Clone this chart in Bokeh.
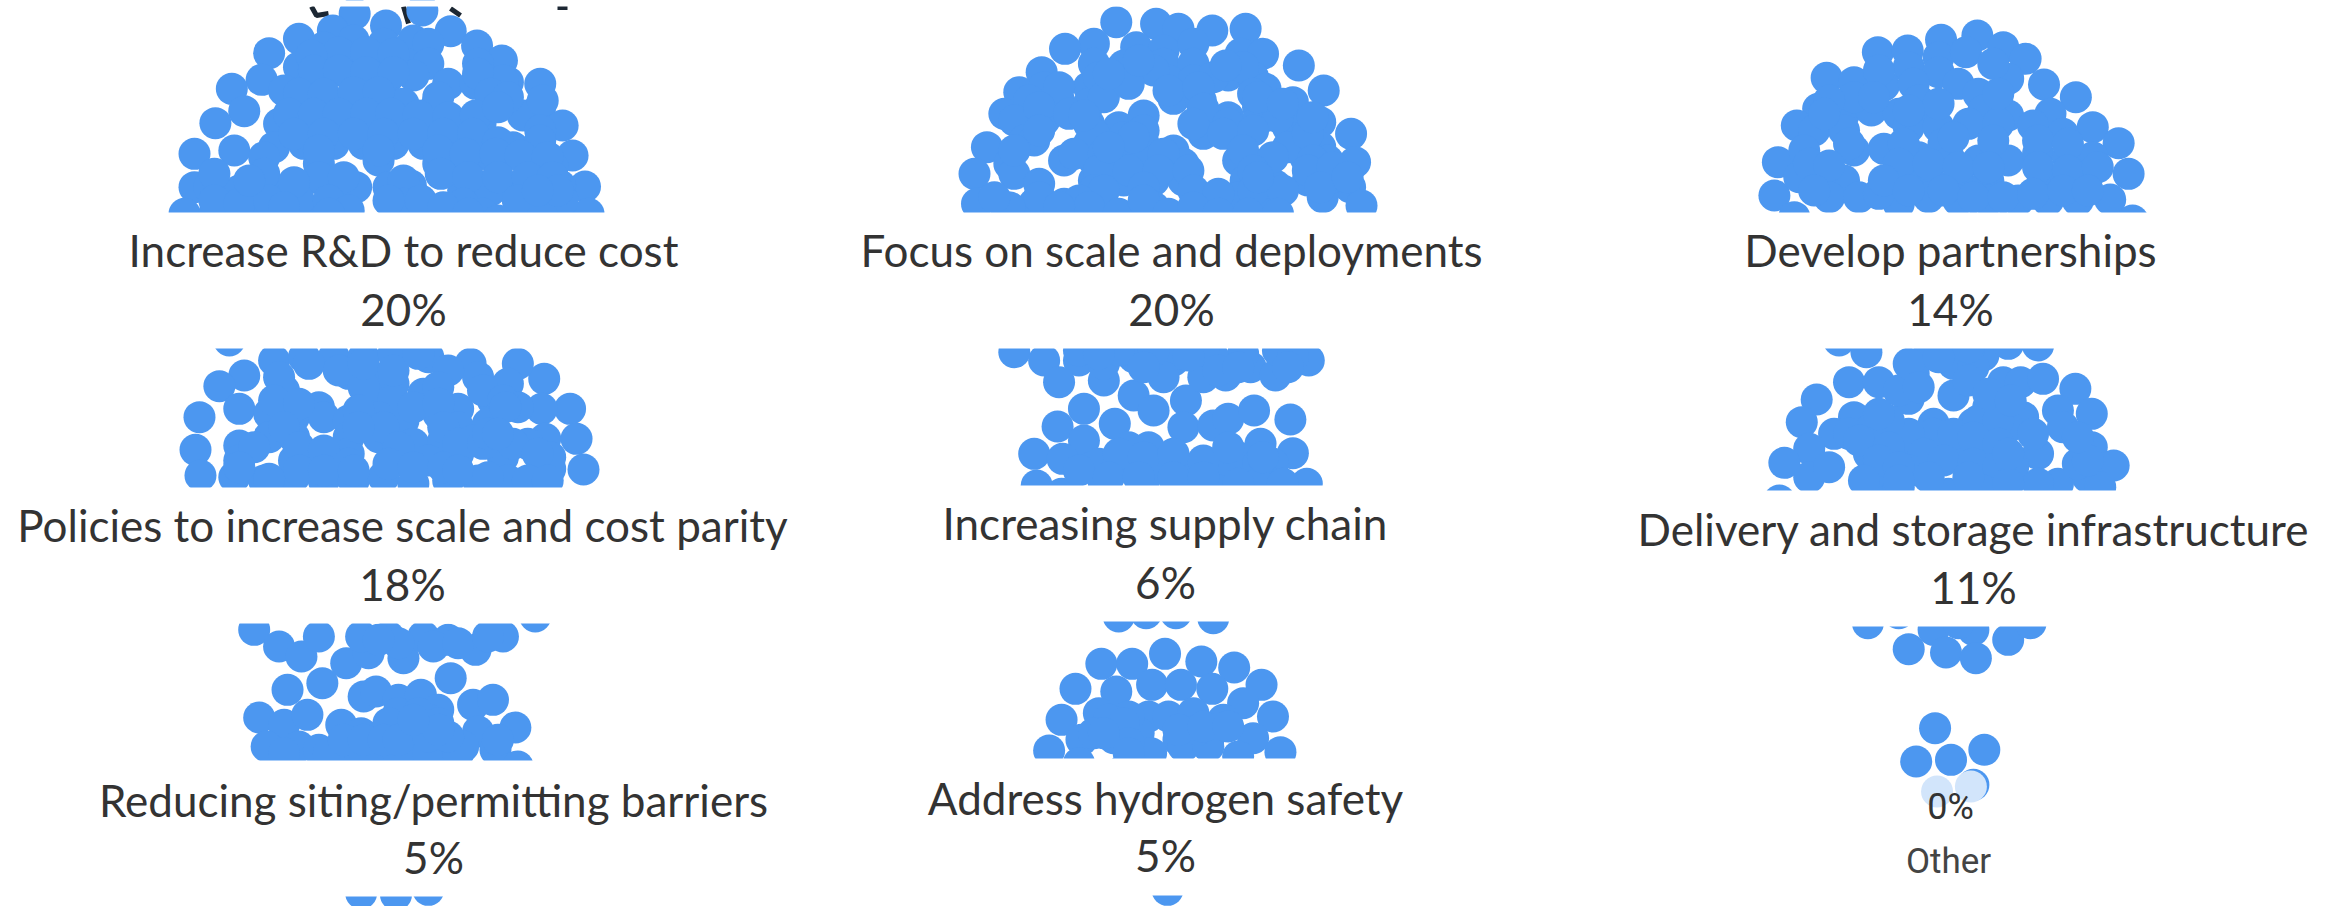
from bokeh.plotting import figure
from bokeh.models import Range1d, ColumnDataSource
from bokeh.core.properties import value
from bokeh.embed import file_html
from bokeh.resources import INLINE
import numpy as np

# read points: (horizontal, vertical)
p1 = [(712,40),(668,90),(600,115),(775,75),(848,30),(905,92),(958,135),(1008,180),(1085,250),(1085,320),(1130,375),(1150,465),(1175,558),(1182,640),
(540,158),(525,238),(465,265),(490,332),(432,368),(390,460),(390,560),(370,640),(470,450),
(650,140),(710,120),(770,130),(830,120),(860,130),(600,200),(650,190),(705,185),(760,190),(815,190),(860,190),(960,190),(1020,245),
(625,250),(720,240),(775,240),(830,225),(900,250),(955,250),(1010,240),(570,270),
(600,300),(650,310),(705,310),(760,310),(810,310),(875,320),(985,310),(1050,345),(1090,300),
(560,370),(620,370),(680,370),(740,370),(800,370),(860,370),(920,370),(965,370),(1085,390),
(550,440),(610,430),(670,430),(730,430),(790,430),(850,430),(910,430),(970,430),(1030,440),(1085,440),
(530,470),(640,490),(760,480),(880,490),(940,490),(1000,490),(1060,490),(1110,500),
(420,560),(480,570),(540,560),(600,560),(660,560),(715,560),(780,560),(825,555),(930,570),(985,570),(1045,560),(1125,555),
(430,640),(490,640),(550,640),(610,640),(680,640),(800,650),(860,640),(920,650),(1050,640),(1120,640),
(680,155),(735,155),(790,160),(625,165),(630,210),(680,210),(735,215),(790,215),(960,220),
(600,280),(650,280),(710,275),(760,275),(880,290),(985,280),(1020,290),
(580,340),(630,340),(680,340),(735,340),(785,340),(840,345),(900,350),(955,345),(1000,320),
(590,400),(650,400),(710,400),(770,400),(830,400),(890,400),(950,400),(1000,425),(1085,420),
(640,450),(760,450),(880,450),(935,460),(995,460),(1045,465),(1100,470),
(530,520),(640,530),(690,530),(810,540),(885,520),(940,530),(1000,530),(1060,530),(1110,530),(430,520),
(430,600),(480,610),(540,600),(600,600),(660,600),(810,610),(930,610),(1040,600),(1130,600),
(590,545),(700,630),(660,640),(780,600),(845,600),(890,620),(970,640),(1090,650),(1120,570),(1080,570),(940,640),(1000,660),(500,540),(570,620)]
p2 = [(675,65),(755,70),(800,85),(868,90),(935,85),(630,130),(572,145),(715,140),(1042,195),(525,215),(480,275),(1092,270),(1030,305),(450,340),(1085,365),(1147,400),(415,440),(1155,485),(390,520),(1145,560),(395,610),(1168,615),
(770,150),(830,130),(770,190),(830,190),(925,160),(970,160),(900,225),(530,260),(620,260),(685,235),(780,240),(830,240),(950,230),(975,265),
(500,300),(560,300),(620,310),(790,295),(845,300),(960,320),(470,360),(530,360),(620,370),(680,380),(730,345),(845,350),(900,350),(960,360),(1020,380),
(490,420),(510,420),(620,430),(680,430),(730,430),(790,450),(850,400),(930,420),(1040,420),(1085,440),
(460,490),(570,480),(630,480),(690,490),(750,490),(810,490),(920,480),(975,490),(1055,470),
(470,520),(520,550),(630,540),(690,540),(750,540),(810,540),(935,540),(995,555),(1060,540),(1110,530),
(510,610),(570,610),(640,600),(750,620),(850,610),(920,590),(985,600),(1090,590),
(630,190),(690,195),(750,210),(870,230),(930,200),(640,230),(560,260),(520,320),(580,340),(650,290),(700,250),(780,270),(840,260),(950,280),(1000,350),(960,290),(850,325),(900,370),
(520,390),(630,400),(690,410),(730,390),(830,370),(890,400),(950,390),(1020,440),(1060,400),(1100,480),(470,450),(590,460),(650,460),(710,460),(770,460),(930,450),(990,470),(1070,480),
(640,510),(700,510),(760,510),(820,510),(950,510),(1060,510),(1110,500),(630,570),(650,570),(730,560),(830,570),(880,580),(950,570),(1010,570),(1085,560),(520,590),(600,600),(1140,530),
(620,620),(680,640),(730,600),(780,640),(830,620),(880,640),(940,640),(1000,640),(460,620),(430,590),(560,620),(960,530),(610,345),(710,410),(660,440),(1070,350),(1010,310),(720,180),(895,195),(660,220)]
p3 = [(638,155),(698,150),(765,118),(838,105),(890,140),(935,175),(535,232),(900,235),(972,252),(1036,290),(518,325),(475,375),(985,340),(1070,380),(1122,428),(437,485),(1142,520),(430,585),(470,650),(1105,597),(1150,660),
(700,200),(760,170),(815,155),(870,190),(760,215),(590,245),(650,255),(710,250),(800,250),(840,280),(880,320),
(570,340),(625,330),(680,340),(740,340),(850,330),(900,345),(510,390),(570,390),(700,380),(760,380),(820,370),(880,370),(950,375),(1010,400),
(490,450),(590,450),(650,445),(720,470),(780,470),(840,480),(900,480),(960,460),(1020,470),(1070,470),
(480,530),(540,520),(570,540),(680,530),(740,530),(800,540),(860,540),(970,530),(1030,530),(1060,525),
(540,590),(600,590),(680,610),(740,590),(800,600),(860,600),(920,600),(980,600),(1040,600),
(640,210),(590,290),(630,290),(720,300),(760,310),(880,280),(540,300),(530,340),(580,430),(690,430),(770,430),(870,420),(960,420),(1020,430),(790,410),(700,330),
(500,490),(540,495),(680,490),(740,490),(800,500),(860,500),(960,500),(1020,510),(1080,500),(510,570),(640,580),(650,540),(700,570),(770,570),(830,590),(890,590),(950,580),(1010,570),(1060,570)]
p4 = [(460,60),(490,165),(440,197),(400,290),(392,388),(402,465),(1093,175),(1145,265),(1088,265),(1158,355),(1172,447),(1105,445),(1095,355),
(550,120),(610,110),(670,110),(730,110),(790,100),(860,110),(945,130),(1040,130),(700,160),(760,175),(790,190),(960,170),(1020,190),
(570,210),(640,260),(740,230),(790,240),(850,220),(920,265),(990,240),(1040,260),
(480,265),(540,280),(590,290),(650,290),(700,300),(760,290),(810,300),(880,280),(920,320),(980,310),
(480,375),(540,350),(590,350),(700,350),(760,350),(830,370),(890,360),(950,360),(1000,370),(1060,370),
(480,420),(590,420),(640,410),(700,400),(800,420),(860,420),(920,400),(1010,410),(1105,410),
(470,470),(530,480),(590,470),(650,480),(710,480),(770,470),(830,490),(900,480),(960,480),(1020,480),
(560,170),(550,240),(600,250),(620,130),(680,150),(730,200),(730,130),(790,150),(840,100),(900,150),(880,200),(830,260),(880,250),(970,210),(1010,240),(1015,260),(720,270),
(770,320),(720,320),(570,320),(600,380),(510,380),(650,390),(700,430),(800,380),(890,320),(920,370),(970,370),(1030,370),(1080,400),(980,340),(1000,340),
(780,430),(830,440),(890,440),(920,450),(980,470),(1060,480),(600,450),(650,450),(710,450),(540,475),(480,440),(1100,480)]
p5 = [(470,95),(530,120),(600,120),(560,185),(650,180),(650,130),(710,110),(760,130),(790,120),(770,170),(815,240),(850,170),(895,165),(945,140),(995,165),(1062,120),(1000,90),(930,100),(870,110),(600,90),(680,90),(750,90),(850,90),
(610,265),(710,225),(750,270),(672,310),(557,318),(810,320),(870,315),(900,295),(952,270),(1025,297),(610,360),(510,400),(567,415),(1030,398),(965,370),(740,380),(700,380),(625,440),(640,430),(700,440),(760,440),(820,450),(880,440),(940,440),(990,430),(690,430),(770,430),(850,420),(920,410),(960,430),(515,495),(565,520),(650,490),(730,490),(830,500),(880,510),(960,490),(1000,520),(1058,490),
(640,100),(730,140),(820,105),(880,150),(920,140),(1030,110),(1020,140),(680,400),(730,410),(790,400),(900,380),(970,410),(600,450),(660,470),(720,470),(790,470),(850,470),(920,490),(1010,490)]
p6 = [(560,60),(615,95),(740,100),(850,105),(900,70),(960,75),(770,80),(820,90),(580,185),(640,185),(710,160),(790,130),(830,140),(890,185),(925,185),(970,175),(1035,205),(515,237),(700,235),(790,225),(1000,270),(1068,280),(485,305),(590,290),(860,260),(930,290),(1010,320),(550,340),(620,330),(650,340),(750,310),(830,310),(900,320),(500,385),(1068,380),(960,400),(450,427),(1112,435),(620,400),(700,400),(790,380),(860,390),(910,440),(500,470),(650,470),(720,450),(860,470),(1000,490),(1060,470),(440,540),(780,520),(960,490),(1085,500),(540,440),
(750,340),(790,340),(700,340),(660,400),(840,300),(880,300),(730,400),(770,420),(830,350),(880,370),(830,430),(880,440),(640,450),(700,450),(740,470),(680,500),(850,510),(900,490),(1040,430),
(580,340),(600,360),(660,300),(640,280),(660,380),(1060,420),(1040,350),(950,340),(640,420),(680,440),(610,480),(680,480),(820,470),(900,400),(820,80),(680,210),(700,130),(760,110),(720,200),(820,180),(860,220),(905,240)]
p7 = [(510,70),(560,120),(605,150),(640,90),(695,170),(740,140),(780,90),(810,155),(850,90),(900,100),(955,130),(1010,90),(1075,30),(725,90),
(577,250),(647,230),(905,215),(730,270),(755,255),(800,280),(845,265),(880,310),(950,295),(990,280),(1035,363),(520,333),(570,355),(617,325),(685,355),(800,350),(860,340),(725,380),(960,375),(830,380),(535,420),(600,420),(640,430),(700,420),(760,430),(830,420),(890,420),(930,420),(995,430),(1040,480),
(800,320),(840,320),(880,350),(780,350),(570,440),(660,440),(730,430),(800,440),(860,440),(920,440),
(800,110),(760,100),(870,120),(920,110),(980,90),(690,400),(730,400),(770,400),(800,400),(860,390),(900,390),(1000,400),(880,370),(830,340),
(725,860),(795,865),(860,850)]
p8 = [(680,30),(735,20),(795,20),(870,35),(645,172),(707,172),(773,142),(846,165),(912,183),(593,247),(675,255),(747,235),(805,235),(868,247),(967,235),(930,290),(565,340),(640,320),(990,330),(740,330),(780,330),(830,320),(890,340),(605,400),(670,395),(720,380),(800,400),(860,400),(950,395),(540,432),(745,440),(810,420),(920,450),(1005,437),(600,470),(690,490),(860,420),
(700,330),(660,340),(690,350),(840,370),(700,410),(630,380),(650,380),(800,370),(850,360),(900,360),(700,440),(778,850)]
p9 = [(618,50),(680,20),(750,70),(830,70),(900,100),(945,50),(700,128),(775,138),(835,155),(800,50),(753,365),(715,465),(785,460),(852,430),(830,535)]
p9_faded = [(757,555),(825,540)]

labels = ["Increase R&D to reduce cost","Focus on scale and deployments","Develop partnerships",
          "Policies to increase scale and cost parity","Increasing supply chain","Delivery and storage infrastructure",
          "Reducing siting/permitting barriers","Address hydrogen safety"]
shares = ["20%","20%","14%","18%","6%","11%","5%","5%"]
label_x = [403,1171,1950,402,1165,1973,433,1165]
label_y = [249,249,249,524,522,528,799,797]
share_y = [308,308,308,583,581,586,856,854]

crop_x = [0,780,1560]*3
crop_y = [0,0,0,320,320,320,606,606,606]
panels = [p1,p2,p3,p4,p5,p6,p7,p8,p9]

# blank strips between the cropped panels
strip_left = [0,0,0,780,780,780,1560,1560]
strip_right = [780,780,780,1560,1560,1560,2341,2341]
strip_top = [212,487,760,212,485,758,212,490]
strip_bottom = [348,623,896,348,621,895,348,626]

frag_x = [[311,316,328],[403,408],[450,460],[557,567]]
frag_y = [[6,15,13],[6,23],[8,15],[7,7]]

BLUE = "#4C97F0"
INK = "#333333"
scale_x = 1568/780
scale_y = 3.0

p = figure(width=2341, height=906, output_backend="svg", toolbar_location=None,
           x_range=Range1d(0,2341), y_range=Range1d(906,0),
           x_axis_type=None, y_axis_type=None, min_border=0,
           background_fill_color="white", border_fill_color="white", outline_line_color=None)
p.grid.visible = False

p.multi_line(frag_x, frag_y, line_color="#1c2733", line_width=5)

def conv(pts, ox, oy):
    a = np.array(pts, float)
    return ox + a[:,0]/scale_x, oy + a[:,1]/scale_y

for pts, ox, oy in zip(panels, crop_x, crop_y):
    x, y = conv(pts, ox, oy)
    p.scatter(x, y, size=32, fill_color=BLUE, line_color=None)
x, y = conv(p9_faded, 1560, 606)
p.scatter(x, y, size=32, fill_color="#D2E5FB", line_color=None)

p.quad(left=strip_left, right=strip_right, top=strip_top, bottom=strip_bottom, fill_color="white", line_color=None)
p.quad(left=[0], right=[2341], top=[0], bottom=[6], fill_color="white", line_color=None)

src = ColumnDataSource(dict(x=label_x, y=label_y, t=labels))
p.text("x","y",text="t",source=src,text_align="center",text_baseline="alphabetic",
       text_font=value("Lato"),text_font_size="44px",text_color=INK)
src2 = ColumnDataSource(dict(x=label_x, y=share_y, t=shares))
p.text("x","y",text="t",source=src2,text_align="center",text_baseline="alphabetic",
       text_font=value("Lato"),text_font_size="44px",text_color=INK)
p.text([1950],[806],text=["0%"],text_align="center",text_baseline="alphabetic",
       text_font=value("Roboto"),text_font_size="36px",text_color=INK)
p.text([1948],[861],text=["Other"],text_align="center",text_baseline="alphabetic",
       text_font=value("Roboto"),text_font_size="35px",text_color="#444444")

open("out.html","w").write(file_html(p, INLINE))
